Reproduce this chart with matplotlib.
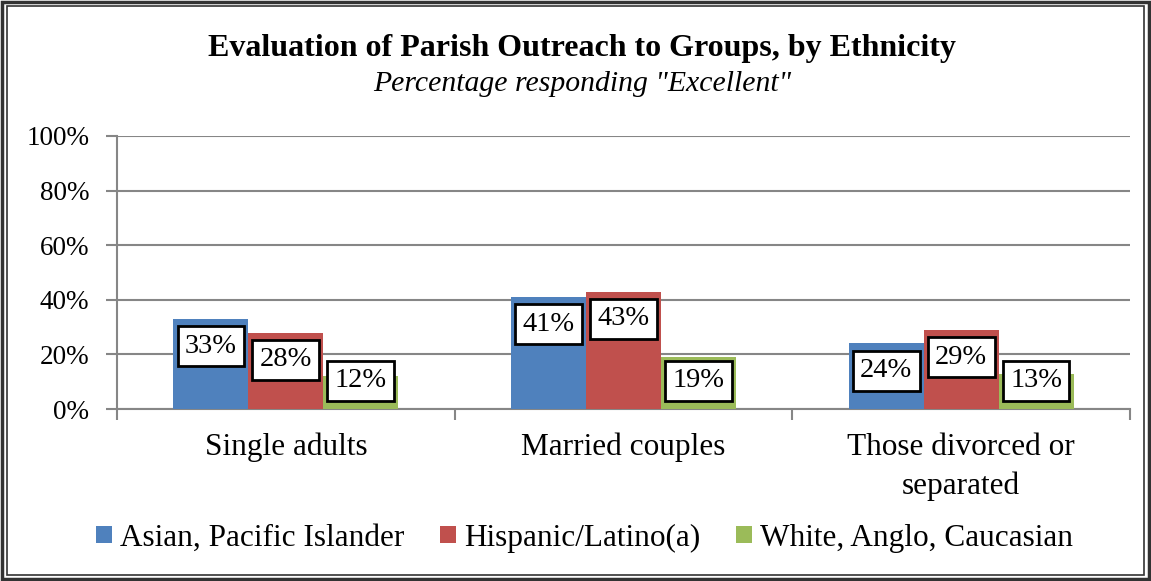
import numpy as np
import matplotlib
matplotlib.use("Agg")
import matplotlib.pyplot as plt
from matplotlib.patches import Rectangle

# data
categories = ["Single adults", "Married couples", "Those divorced or\nseparated"]
series = ["Asian, Pacific Islander", "Hispanic/Latino(a)", "White, Anglo, Caucasian"]
asian = [33, 41, 24]
hispanic = [28, 43, 29]
white = [12, 19, 13]
colors = ["#4F81BD", "#C0504D", "#9BBB59"]

plt.rcParams["font.family"] = ["Liberation Serif", "DejaVu Serif"]

fig = plt.figure(figsize=(11.51, 5.81), dpi=100)
ax = fig.add_axes([0.1017, 0.296, 0.88, 0.47])

x = np.arange(len(categories))
w = 0.222
for i, (vals, name) in enumerate(zip([asian, hispanic, white], series)):
    pos = x + (i - 1) * w
    ax.bar(pos, vals, width=w, color=colors[i], label=name, zorder=3)
    for p, v in zip(pos, vals):
        ax.text(p, max(v - 10, 10.3), f"{v}%", ha="center", va="center",
                fontsize=20.5, zorder=4,
                bbox=dict(boxstyle="square,pad=0.26", fc="white", ec="black", lw=2))

ax.set_xlim(-0.5, 2.5)
ax.set_ylim(0, 100)
ax.set_yticks(range(0, 101, 20))
ax.set_yticklabels([f"{t}%" for t in range(0, 101, 20)], fontsize=19.5)
ax.yaxis.grid(True, color="#868686", lw=1.5, zorder=0)
ax.set_xticks([-0.5, 0.5, 1.5, 2.5])
ax.set_xticklabels([])
ax.set_xticks(x, minor=True)
ax.set_xticklabels(categories, minor=True, fontsize=22.5, linespacing=1.45)
ax.tick_params(axis="x", which="minor", length=0, pad=17)
ax.tick_params(axis="x", which="major", length=8, width=1.5, color="#868686")
ax.tick_params(axis="y", length=8, width=1.5, color="#868686", pad=12)
for s in ["top", "right"]:
    ax.spines[s].set_visible(False)
for s in ["left", "bottom"]:
    ax.spines[s].set_color("#868686")
    ax.spines[s].set_linewidth(1.5)

fig.text(0.506, 0.917, "Evaluation of Parish Outreach to Groups, by Ethnicity",
         ha="center", va="center", fontsize=23, fontweight="bold")
fig.text(0.506, 0.855, 'Percentage responding "Excellent"',
         ha="center", va="center", fontsize=21.4, style="italic")

fig.legend(loc="center", bbox_to_anchor=(0.508, 0.074), ncol=3, frameon=False,
           fontsize=22.5, handlelength=0.5, handleheight=0.5, handletextpad=0.26,
           columnspacing=1.15)

fig.patches.append(Rectangle((0.002, 0.003), 0.996, 0.994, transform=fig.transFigure,
                             fill=False, ec="#333333", lw=2.5))
fig.patches.append(Rectangle((0.0065, 0.0095), 0.987, 0.981, transform=fig.transFigure,
                             fill=False, ec="#333333", lw=1.2))

fig.savefig("out.png", dpi=100)
